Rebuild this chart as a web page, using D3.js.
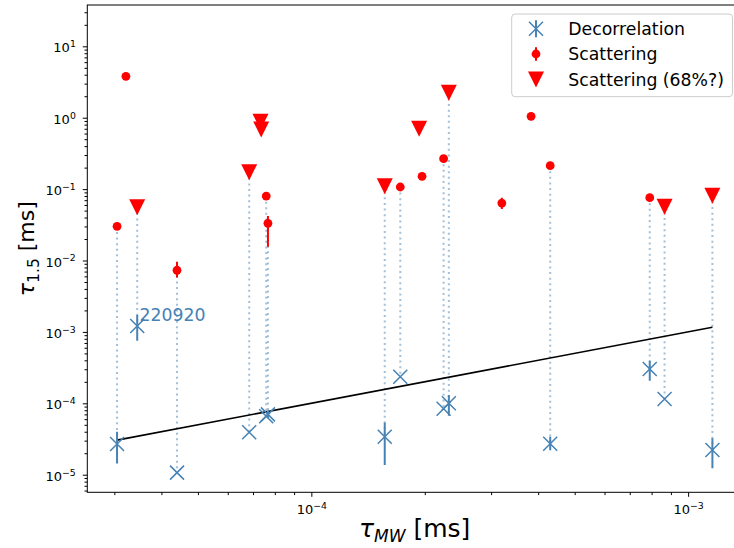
<!DOCTYPE html>
<html><head><meta charset="utf-8">
<script src="https://cdn.jsdelivr.net/npm/d3@7"></script>
<style>
html,body{margin:0;padding:0;background:#fff;}
svg{display:block;font-family:"DejaVu Sans",sans-serif;}
</style></head><body>
<svg id="chart" width="734" height="548"></svg>
<script>
// Milky Way scattering prediction per burst [ms]
const tauMW = [3.05e-5, 3.22e-5, 3.45e-5, 4.40e-5, 6.84e-5, 7.33e-5, 7.36e-5, 7.59e-5, 7.67e-5,
  1.566e-4, 1.722e-4, 1.932e-4, 1.967e-4, 2.244e-4, 2.317e-4, 3.203e-4, 3.83e-4, 4.305e-4,
  7.91e-4, 8.66e-4, 1.16e-3];
// Scattering time at 1.5 GHz [ms]; limits drawn as downward triangles
const scatTau = [0.0301, 3.80, 0.0557, 0.0073, 0.1726, 0.877, 0.684, 0.080, 0.0332,
  0.110, 0.107, 0.702, 0.151, 0.267, 2.23, 0.0638, 1.047, 0.213, 0.0759, 0.0565, 0.0805];
const scatLimit = [false, false, true, false, true, true, true, false, false,
  true, false, true, false, false, true, false, false, false, false, true, true];
const scatLo = [null, null, null, 0.0058, null, null, null, null, 0.0156,
  null, null, null, null, null, null, 0.0526, null, null, null, null, null];
const scatHi = [null, null, null, 0.0096, null, null, null, null, 0.042,
  null, null, null, null, null, null, 0.0759, null, null, null, null, null];
// Scattering derived from scintillation decorrelation bandwidth [ms]
const decorTau = [2.69e-5, null, 1.21e-3, 1.07e-5, 3.93e-5, null, null, 6.6e-5, 7.0e-5,
  3.41e-5, 2.36e-4, null, null, 8.4e-5, 1.0e-4, null, null, 2.72e-5, 3.02e-4, 1.15e-4, 2.22e-5];
const decorLo = [1.44e-5, null, 7.53e-4, null, null, null, null, null, 6.2e-5,
  1.37e-5, null, null, null, null, 6.7e-5, null, null, 2.2e-5, 2.07e-4, null, 1.23e-5];
const decorHi = [4.0e-5, null, 1.73e-3, null, null, null, null, null, 7.8e-5,
  5.35e-5, null, null, null, null, 1.31e-4, null, null, 3.4e-5, 3.91e-4, null, 3.24e-5];
// Burst name annotation
const annotIndex = 2;
const annotText = "220920";
// One-to-one reference line
const refLineX = [3.05e-5, 1.16e-3];
const refLineY = [3.05e-5, 1.16e-3];
// Axis ticks
const xTickExps = [-4, -3];
const yTickExps = [-5, -4, -3, -2, -1, 0, 1];
const xDomain = [2.543e-5, 1.390e-3];
const yDomain = [5.67e-6, 37.9];
const seriesNames = ["Decorrelation", "Scattering", "Scattering (68%?)"];

const BLUE = "#4682b4", RED = "#ff0000";
const L = 87.3, R = 742, T = 5, B = 492.3;

const svg = d3.select("#chart");
const x = d3.scaleLog().domain(xDomain).range([L, R]);
const y = d3.scaleLog().domain(yDomain).range([B, T]);

const clipId = "plotclip";
svg.append("defs").append("clipPath").attr("id", clipId)
  .append("rect").attr("x", L).attr("y", T).attr("width", R - L).attr("height", B - T);

const plot = svg.append("g").attr("clip-path", `url(#${clipId})`);

const idx = d3.range(tauMW.length);

// dotted connectors between scattering and decorrelation values
plot.selectAll("line.conn").data(idx.filter(i => decorTau[i] != null)).join("line")
  .attr("class", "conn")
  .attr("x1", i => x(tauMW[i])).attr("x2", i => x(tauMW[i]))
  .attr("y1", i => y(scatTau[i])).attr("y2", i => y(decorTau[i]))
  .attr("stroke", BLUE).attr("stroke-opacity", 0.5)
  .attr("stroke-width", 2).attr("stroke-dasharray", "2,3.6");

// reference line
plot.append("path")
  .datum(d3.zip(refLineX, refLineY))
  .attr("d", d3.line().x(d => x(d[0])).y(d => y(d[1])))
  .attr("stroke", "#000").attr("stroke-width", 1.6).attr("fill", "none");

// decorrelation error bars and markers
const dIdx = idx.filter(i => decorTau[i] != null);
plot.selectAll("line.derr").data(dIdx.filter(i => decorLo[i] != null)).join("line")
  .attr("class", "derr")
  .attr("x1", i => x(tauMW[i])).attr("x2", i => x(tauMW[i]))
  .attr("y1", i => y(decorLo[i])).attr("y2", i => y(decorHi[i]))
  .attr("stroke", BLUE).attr("stroke-width", 2);
const xs = 7;
plot.selectAll("path.dmark").data(dIdx).join("path")
  .attr("class", "dmark")
  .attr("d", i => {
    const cx = x(tauMW[i]), cy = y(decorTau[i]);
    return `M${cx - xs},${cy - xs}L${cx + xs},${cy + xs}M${cx - xs},${cy + xs}L${cx + xs},${cy - xs}`;
  })
  .attr("stroke", BLUE).attr("stroke-width", 1.5).attr("fill", "none");

// scattering measurements
const mIdx = idx.filter(i => !scatLimit[i]);
plot.selectAll("line.serr").data(mIdx.filter(i => scatLo[i] != null)).join("line")
  .attr("class", "serr")
  .attr("x1", i => x(tauMW[i])).attr("x2", i => x(tauMW[i]))
  .attr("y1", i => y(scatLo[i])).attr("y2", i => y(scatHi[i]))
  .attr("stroke", RED).attr("stroke-width", 2);
plot.selectAll("circle.sdot").data(mIdx).join("circle")
  .attr("class", "sdot")
  .attr("cx", i => x(tauMW[i])).attr("cy", i => y(scatTau[i]))
  .attr("r", 4.4).attr("fill", RED);

// scattering limits
const ts = 8;
const tri = (cx, cy) => `M${cx - ts},${cy - ts}L${cx + ts},${cy - ts}L${cx},${cy + ts}Z`;
plot.selectAll("path.slim").data(idx.filter(i => scatLimit[i])).join("path")
  .attr("class", "slim")
  .attr("d", i => tri(x(tauMW[i]), y(scatTau[i])))
  .attr("fill", RED);

// annotation
svg.append("text")
  .attr("x", x(tauMW[annotIndex]) + 2.3)
  .attr("y", y(decorTau[annotIndex]) - 5.3)
  .attr("fill", BLUE).attr("font-size", 17.3)
  .text(annotText);

// axes: minor and major ticks
function minorTicks(domain) {
  const out = [];
  const e0 = Math.floor(Math.log10(domain[0])), e1 = Math.ceil(Math.log10(domain[1]));
  for (let e = e0; e <= e1; e++) for (let m = 2; m <= 9; m++) {
    const v = m * Math.pow(10, e);
    if (v >= domain[0] && v <= domain[1]) out.push(v);
  }
  return out;
}
const tickCol = "#000";
const axX = svg.append("g").attr("transform", `translate(0,${B})`);
axX.call(d3.axisBottom(x).tickValues(minorTicks(xDomain)).tickSize(2.8).tickFormat(""));
axX.call(g => g.append("g").call(d3.axisBottom(x).tickValues(xTickExps.map(e => Math.pow(10, e))).tickSize(4.5).tickFormat("")));
axX.selectAll(".domain").remove();
axX.selectAll("line").attr("stroke", tickCol).attr("stroke-width", 1);

const axY = svg.append("g").attr("transform", `translate(${L},0)`);
axY.call(d3.axisLeft(y).tickValues(minorTicks(yDomain)).tickSize(2.8).tickFormat(""));
axY.call(g => g.append("g").call(d3.axisLeft(y).tickValues(yTickExps.map(e => Math.pow(10, e))).tickSize(4.5).tickFormat("")));
axY.selectAll(".domain").remove();
axY.selectAll("line").attr("stroke", tickCol).attr("stroke-width", 1);

// tick labels with superscript exponents
function powLabel(sel, e) {
  sel.append("tspan").text("10");
  sel.append("tspan").attr("font-size", 9.3).attr("dy", -5.2).text(e < 0 ? "\u2212" + (-e) : String(e));
}
xTickExps.forEach(e => {
  const t = svg.append("text").attr("x", x(Math.pow(10, e)) + 0.5).attr("y", B + 21.7)
    .attr("text-anchor", "middle").attr("font-size", 13).attr("fill", "#000");
  powLabel(t, e);
});
yTickExps.forEach(e => {
  const t = svg.append("text").attr("x", L - 11.5).attr("y", y(Math.pow(10, e)) + 6)
    .attr("text-anchor", "end").attr("font-size", 13).attr("fill", "#000");
  powLabel(t, e);
});

// frame
svg.append("rect").attr("x", L).attr("y", T).attr("width", R - L).attr("height", B - T)
  .attr("fill", "none").attr("stroke", "#000").attr("stroke-width", 1);

// axis titles
const xt = svg.append("text").attr("x", (L + R) / 2).attr("y", 537)
  .attr("text-anchor", "middle").attr("font-size", 25).attr("fill", "#000");
xt.append("tspan").attr("font-style", "italic").text("\u03c4");
xt.append("tspan").attr("font-style", "italic").attr("font-size", 17).attr("dy", 5).text("MW");
xt.append("tspan").attr("dy", -5).text(" [ms]");

const yt = svg.append("text")
  .attr("transform", `translate(34,${(T + B) / 2}) rotate(-90)`)
  .attr("text-anchor", "middle").attr("font-size", 22).attr("fill", "#000");
yt.append("tspan").attr("font-style", "italic").text("\u03c4");
yt.append("tspan").attr("font-size", 15.5).attr("dy", 4.5).text("1.5");
yt.append("tspan").attr("dy", -4.5).text(" [ms]");

// legend
const lg = svg.append("g");
lg.append("rect").attr("x", 511.7).attr("y", 14).attr("width", 220.8).attr("height", 82.7)
  .attr("rx", 3.5).attr("fill", "#fff").attr("fill-opacity", 0.8)
  .attr("stroke", "#cccccc").attr("stroke-width", 1);
const rowY = [28.7, 54, 79.5];
const mx = 536;
// decorrelation symbol
lg.append("line").attr("x1", mx).attr("x2", mx).attr("y1", rowY[0] - 8.5).attr("y2", rowY[0] + 8.5)
  .attr("stroke", BLUE).attr("stroke-width", 2);
lg.append("path").attr("d", `M${mx - xs},${rowY[0] - xs}L${mx + xs},${rowY[0] + xs}M${mx - xs},${rowY[0] + xs}L${mx + xs},${rowY[0] - xs}`)
  .attr("stroke", BLUE).attr("stroke-width", 1.5).attr("fill", "none");
// scattering symbol
lg.append("line").attr("x1", mx).attr("x2", mx).attr("y1", rowY[1] - 6.7).attr("y2", rowY[1] + 6.7)
  .attr("stroke", RED).attr("stroke-width", 2);
lg.append("circle").attr("cx", mx).attr("cy", rowY[1]).attr("r", 4.4).attr("fill", RED);
// limit symbol
lg.append("path").attr("d", tri(mx, rowY[2])).attr("fill", RED);
seriesNames.forEach((s, k) => {
  lg.append("text").attr("x", 568.3).attr("y", rowY[k] + 6.3)
    .attr("font-size", 17.3).attr("fill", "#000").text(s);
});
</script>
</body></html>
